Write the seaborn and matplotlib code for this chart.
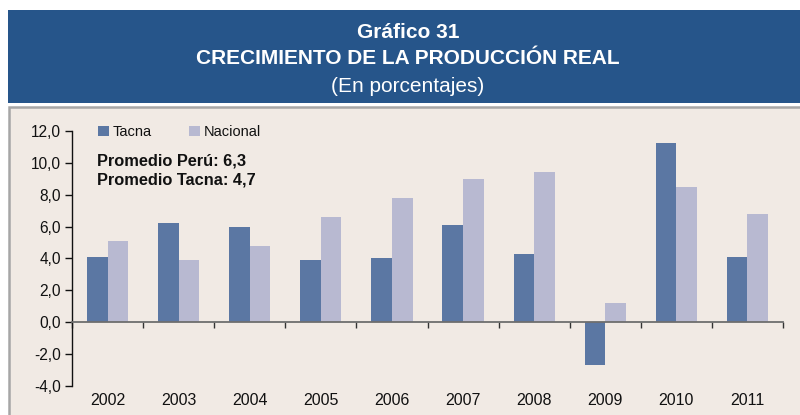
import matplotlib
matplotlib.use("Agg")
import matplotlib.pyplot as plt
import matplotlib.transforms as mtransforms
from matplotlib.patches import Rectangle
from matplotlib import font_manager
import seaborn as sns
import pandas as pd

# Real production growth, % (Tacna vs. national)
years = ["2002", "2003", "2004", "2005", "2006", "2007", "2008", "2009", "2010", "2011"]
tacna = [4.1, 6.2, 6.0, 3.9, 4.0, 6.1, 4.3, -2.7, 11.2, 4.1]
nacional = [5.1, 3.9, 4.8, 6.6, 7.8, 9.0, 9.4, 1.2, 8.5, 6.8]
series_names = ["Tacna", "Nacional"]
yticks = [-4, -2, 0, 2, 4, 6, 8, 10, 12]
avg_lines = ["Promedio Perú: 6,3", "Promedio Tacna: 4,7"]

sns.set_theme(style="white")
names = {f.name for f in font_manager.fontManager.ttflist}
base_font = "Liberation Sans" if "Liberation Sans" in names else "DejaVu Sans"
title_font = "Liberation Sans Narrow" if "Liberation Sans Narrow" in names else base_font
title_size = 17 if title_font.endswith("Narrow") else 15
plt.rcParams["font.family"] = [base_font, "DejaVu Sans"]

BANNER = "#26558A"
PANEL = "#F1EAE4"
C_TACNA = "#5B77A3"
C_NAC = "#B8B9D1"

df = pd.DataFrame({
    "year": years * 2,
    "value": tacna + nacional,
    "serie": [series_names[0]] * len(years) + [series_names[1]] * len(years),
})

fig = plt.figure(figsize=(8, 4.15), dpi=100)
fig.patch.set_facecolor("white")
W, H = 800, 415

# Title banner and chart panel
fig.add_artist(Rectangle((8 / W, 1 - 103 / H), 792 / W, 93 / H, transform=fig.transFigure,
                         facecolor=BANNER, edgecolor="none", zorder=0))
fig.add_artist(Rectangle((9 / W, -0.02), 1.0, (1 - 106.5 / H) + 0.02, transform=fig.transFigure,
                         facecolor=PANEL, edgecolor="#A6A6A6", linewidth=1.8, zorder=0))

tfam = [title_font, "DejaVu Sans"]
fig.text(408 / W, 1 - 33 / H, "Gráfico 31", ha="center", va="center", color="white",
         fontsize=title_size, fontweight="bold", family=tfam)
fig.text(408 / W, 1 - 58 / H, "CRECIMIENTO DE LA PRODUCCIÓN REAL", ha="center", va="center",
         color="white", fontsize=title_size, fontweight="bold", family=tfam)
fig.text(408 / W, 1 - 86 / H, "(En porcentajes)", ha="center", va="center", color="white",
         fontsize=title_size, family=tfam)

ax = fig.add_axes([72 / W, 1 - 386.2 / H, 711 / W, 255.5 / H])
ax.set_facecolor("none")

sns.barplot(data=df, x="year", y="value", hue="serie", order=years, hue_order=series_names,
            palette=[C_TACNA, C_NAC], width=0.58, gap=0, saturation=1, ax=ax,
            edgecolor="none", linewidth=0)

ax.set_ylim(-4, 12)
ax.set_xlim(-0.5, len(years) - 0.5)
ax.set_yticks(yticks)
ax.set_yticklabels([f"{v:.1f}".replace(".", ",") for v in yticks], fontsize=11.2, color="#111111")
ax.tick_params(axis="y", direction="out", length=5, width=1, color="#111111", pad=3, left=True)

# Category-boundary ticks on the zero line; year labels at the bottom
ax.spines["bottom"].set_position(("data", 0))
ax.spines["bottom"].set_color("#6E6E6E")
ax.spines["bottom"].set_linewidth(1.3)
ax.set_xticks([i - 0.5 for i in range(len(years) + 1)])
ax.set_xticklabels([])
ax.tick_params(axis="x", direction="out", length=4, width=1, color="#333333", bottom=True)
for s in ("top", "right"):
    ax.spines[s].set_visible(False)
ax.spines["left"].set_color("#111111")
ax.spines["left"].set_linewidth(1)
ax.set_xlabel("")
ax.set_ylabel("")

lab_tr = mtransforms.blended_transform_factory(ax.transData, fig.transFigure)
for i, y in enumerate(years):
    ax.text(i, 1 - 400 / H, y, transform=lab_tr, ha="center", va="center",
            fontsize=11.5, color="#111111")

leg = ax.legend(loc="upper left", bbox_to_anchor=(0.028, 1.045), ncol=2, frameon=False,
                handlelength=0.75, handleheight=0.75, handletextpad=0.25, columnspacing=2.6,
                fontsize=10.5, borderaxespad=0)
for t in leg.get_texts():
    t.set_color("#111111")

ax.text(0.035, 0.881, avg_lines[0], transform=ax.transAxes, ha="left", va="center",
        fontsize=11.8, fontweight="bold", color="#111111")
ax.text(0.035, 0.807, avg_lines[1], transform=ax.transAxes, ha="left", va="center",
        fontsize=11.8, fontweight="bold", color="#111111")

fig.savefig("out.png", dpi=100, facecolor=fig.get_facecolor())
